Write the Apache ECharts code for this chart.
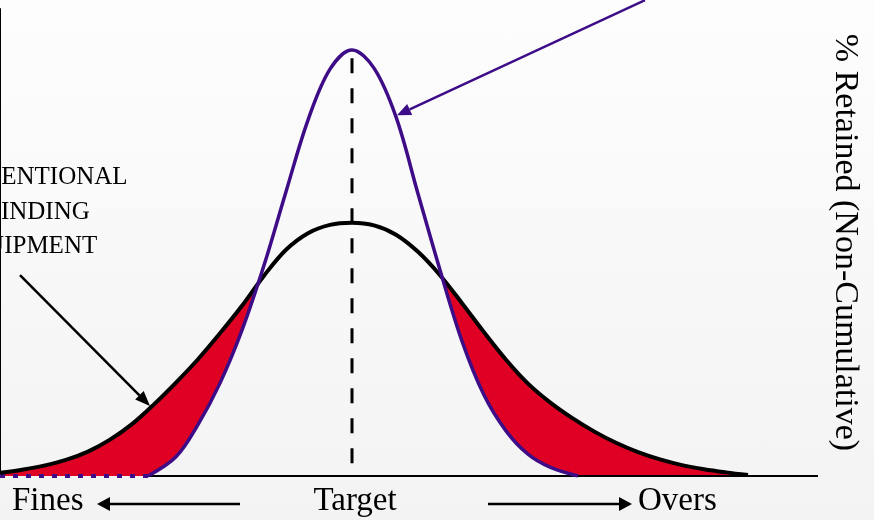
<!DOCTYPE html>
<html>
<head>
<meta charset="utf-8">
<title>Retained distribution</title>
<script src="https://cdn.jsdelivr.net/npm/echarts@6/dist/echarts.min.js"></script>
<style>
  html, body { margin: 0; padding: 0; }
  body { background: linear-gradient(#fdfdfe, #f3f3f4); }
  #main { width: 874px; height: 520px; }
</style>
</head>
<body>
<div id="main"></div>
<script>
// particle size positions (arbitrary units, target at 352)
var sizes = [0, 22, 44, 66, 88, 110, 132, 154, 176, 198, 220, 242, 264, 286, 308, 330, 352,
  374, 396, 418, 440, 462, 484, 506, 528, 550, 572, 594, 616, 638, 660, 682, 704, 726, 748];
// conventional grinding equipment (black)
var conventional = [0.06, 0.12, 0.2, 0.31, 0.47, 0.7, 1.0, 1.38, 1.8, 2.25, 2.75, 3.28, 3.86, 4.36, 4.68, 4.84, 4.88,
  4.83, 4.65, 4.32, 3.87, 3.33, 2.77, 2.24, 1.78, 1.42, 1.12, 0.86, 0.64, 0.46, 0.32, 0.21, 0.13, 0.07, 0.02];
// narrow distribution (purple)
var narrowSizes = [148, 176, 198, 220, 242, 264, 286, 308, 330, 352, 374, 396, 418, 440, 462, 484, 506, 528, 550, 578];
var narrow = [0, 0.37, 0.99, 1.79, 2.81, 4.06, 5.48, 6.86, 7.84, 8.21, 7.86, 6.92, 5.44, 3.97, 2.6, 1.56, 0.87, 0.42, 0.17, 0];
var targetSize = 352;
var axisMax = 818;
var yMax = 9;
var labels = { fines: 'Fines', target: 'Target', overs: 'Overs' };
var noteLines = ['CONVENTIONAL', 'GRINDING', 'EQUIPMENT'];
var yName = '% Retained (Non-Cumulative)';

var serif = 'Liberation Serif';
var purple = '#3d0c86';
var red = '#e00024';
// same gradient as the page, in canvas pixels, so the mask under the narrow curve is invisible
var pageBg = { type: 'linear', x: 0, y: 0, x2: 0, y2: 520, global: true,
  colorStops: [{ offset: 0, color: '#fdfdfe' }, { offset: 1, color: '#f3f3f4' }] };

var blackPts = sizes.map(function (s, i) { return [s, conventional[i]]; });
var purplePts = narrowSizes.map(function (s, i) { return [s, narrow[i]]; });

var smooth = 0.35;
var chart = echarts.init(document.getElementById('main'));
var option = {
  animation: false,
  backgroundColor: 'transparent',
  grid: { left: 0, right: 874 - axisMax, top: 9, bottom: 44 },
  xAxis: { type: 'value', min: 0, max: axisMax, show: false },
  yAxis: {
    type: 'value', position: 'right', min: 0, max: yMax, interval: 1,
    axisLine: { show: true, lineStyle: { color: '#000', width: 2 } },
    axisTick: { show: true, inside: true, length: 9, lineStyle: { color: '#000', width: 2 } },
    axisLabel: { show: false },
    splitLine: { show: false },
    name: yName, nameLocation: 'middle', nameRotate: -90, nameGap: 10,
    nameTextStyle: { fontFamily: serif, fontSize: 34, color: '#000' }
  },
  series: [
    // red under the conventional curve
    { type: 'line', data: blackPts, smooth: smooth, symbol: 'none',
      lineStyle: { width: 0 }, areaStyle: { color: red, opacity: 1 }, silent: true, z: 1 },
    // background-coloured mask under the narrow curve
    { type: 'line', data: purplePts, smooth: smooth, symbol: 'none',
      lineStyle: { width: 0 }, areaStyle: { color: pageBg, opacity: 1 }, silent: true, z: 2 },
    { type: 'line', data: [[148, 0], [axisMax, 0]], symbol: 'none',
      lineStyle: { color: '#000', width: 2 }, z: 3 },
    { type: 'line', data: [[0, 0], [148, 0]], symbol: 'none',
      lineStyle: { color: purple, width: 4, type: [5, 8] }, z: 4 },
    { type: 'line', data: [[targetSize, 8.05], [targetSize, 0]], symbol: 'none',
      lineStyle: { color: '#000', width: 3, type: [15, 15] }, z: 4 },
    { type: 'line', data: blackPts, smooth: smooth, symbol: 'none',
      lineStyle: { color: '#000', width: 4 }, z: 5 },
    { type: 'line', data: purplePts, smooth: smooth, symbol: 'none',
      lineStyle: { color: purple, width: 3.5 }, z: 6 }
  ]
};
chart.setOption(option);

// arrow made of a line and a head triangle, pixel coordinates
function arrow(x1, y1, x2, y2, color, w, len, half) {
  var a = Math.atan2(y2 - y1, x2 - x1);
  var bx = x2 - len * Math.cos(a), by = y2 - len * Math.sin(a);
  var nx = -Math.sin(a) * half, ny = Math.cos(a) * half;
  return [
    { type: 'line', shape: { x1: x1, y1: y1, x2: bx, y2: by }, style: { stroke: color, lineWidth: w }, z: 10 },
    { type: 'polygon', shape: { points: [[x2, y2], [bx + nx, by + ny], [bx - nx, by - ny]] }, style: { fill: color }, z: 10 }
  ];
}

var px = function (x, y) { return chart.convertToPixel({ gridIndex: 0 }, [x, y]); };
var tipP = px(397, 6.95), tailP = px(645, 9.17);
var tipB = px(150, 1.35), tailB = px(20, 3.87);

var g = [];
g = g.concat(arrow(tailP[0], tailP[1], tipP[0], tipP[1], purple, 2.5, 14, 6));
g = g.concat(arrow(tailB[0], tailB[1], tipB[0], tipB[1], '#000', 2.5, 15, 6));
g = g.concat(arrow(240, 504, 97, 504, '#000', 2.5, 13, 7));
g = g.concat(arrow(488, 504, 632, 504, '#000', 2.5, 13, 7));

var noteX = [29, 28, 25];
var noteY = [177, 212, 246];
noteLines.forEach(function (t, k) {
  g.push({ type: 'text', z: 10, style: { text: t, x: noteX[k], y: noteY[k], fill: '#000',
    font: '25px "' + serif + '"', textAlign: 'center', textVerticalAlign: 'middle' } });
});
g.push({ type: 'text', z: 10, style: { text: labels.fines, x: 12, y: 501, fill: '#000',
  font: '33px "' + serif + '"', textAlign: 'left', textVerticalAlign: 'middle' } });
g.push({ type: 'text', z: 10, style: { text: labels.target, x: 355, y: 501, fill: '#000',
  font: '33px "' + serif + '"', textAlign: 'center', textVerticalAlign: 'middle' } });
g.push({ type: 'text', z: 10, style: { text: labels.overs, x: 638, y: 501, fill: '#000',
  font: '33px "' + serif + '"', textAlign: 'left', textVerticalAlign: 'middle' } });

chart.setOption({ graphic: g });
</script>
</body>
</html>
